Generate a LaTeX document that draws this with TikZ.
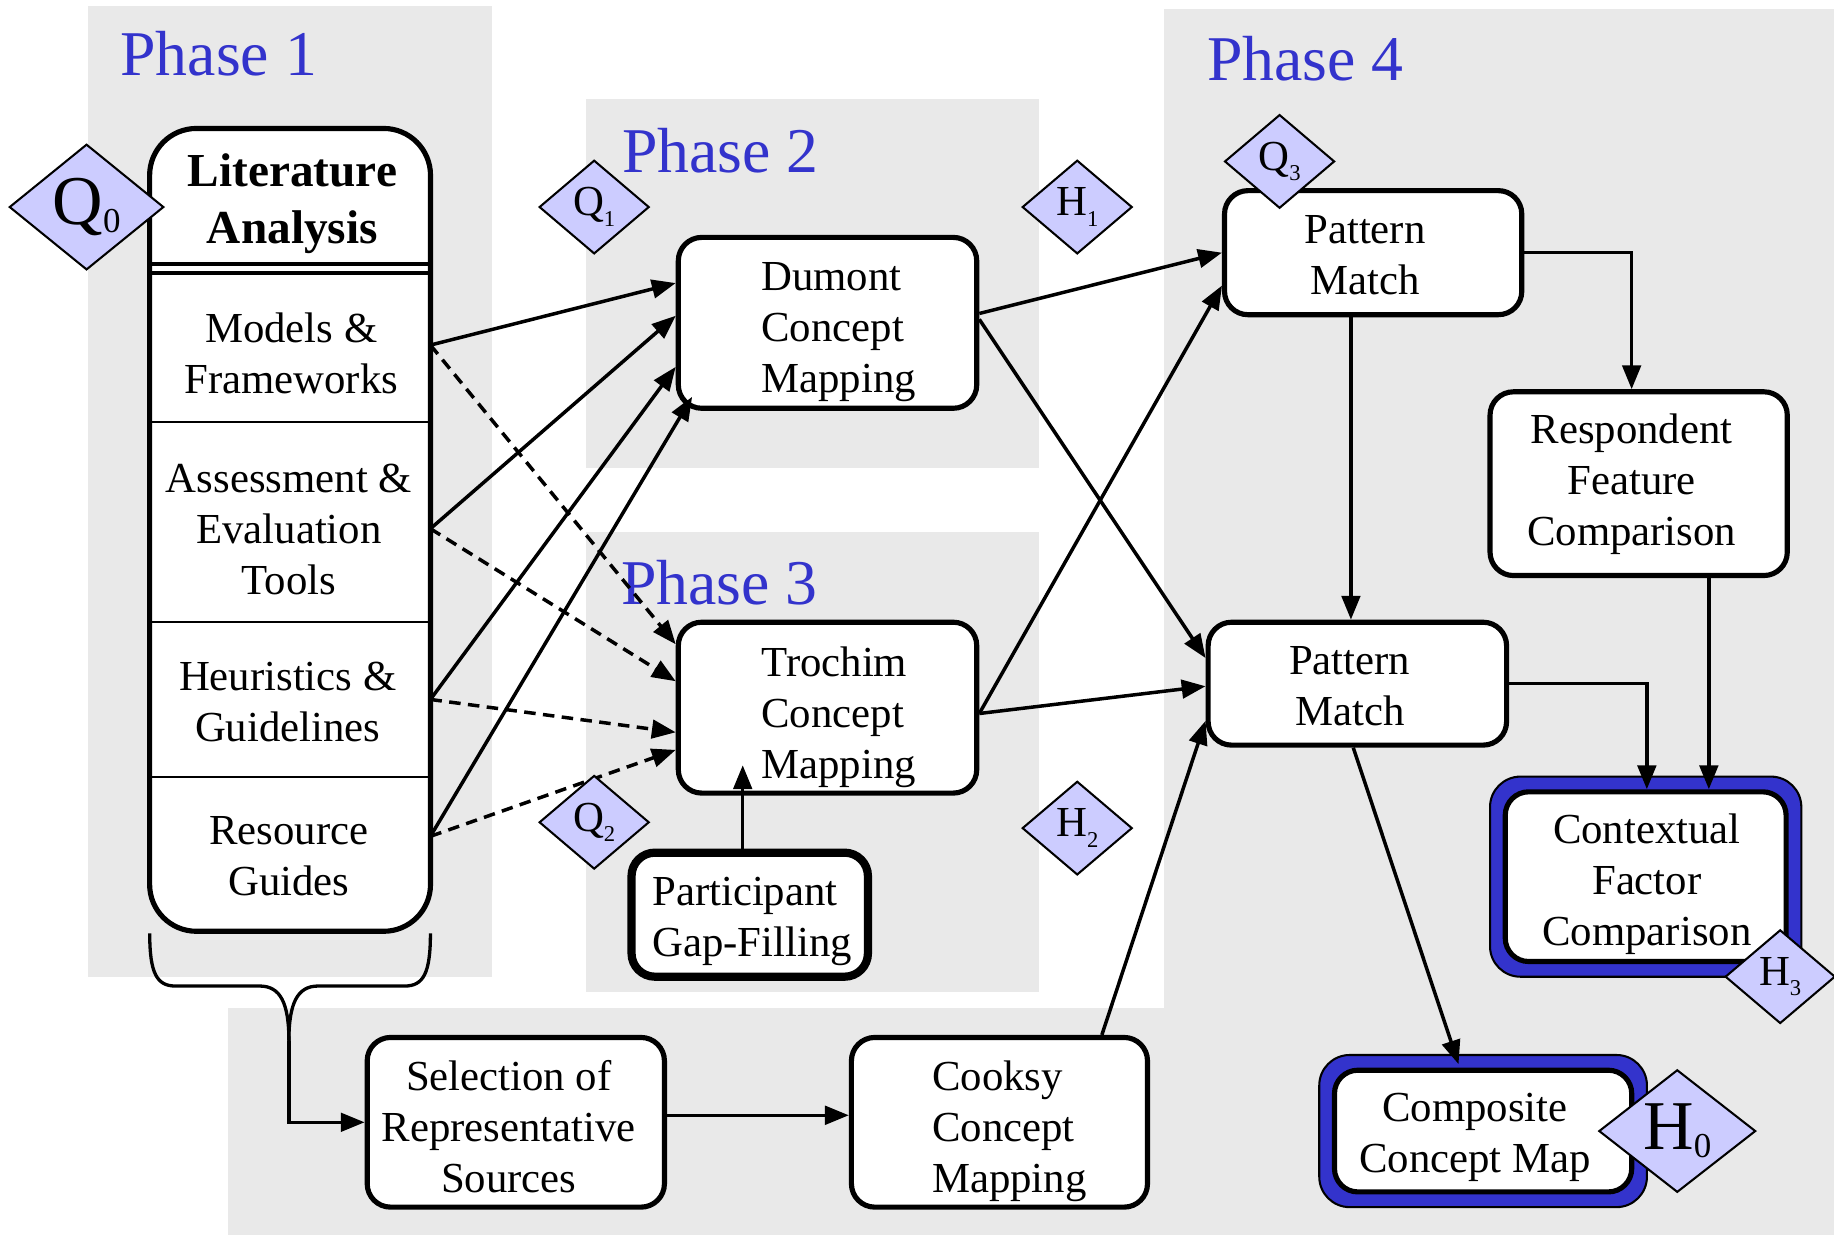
\documentclass[tikz,border=0pt]{standalone}
\usepackage{fontspec}
\setmainfont{Liberation Serif}
\usetikzlibrary{arrows.meta,shapes.geometric,calc}

\definecolor{panelgray}{HTML}{E9E9E9}
\definecolor{phaseblue}{HTML}{3333CC}
\definecolor{markfill}{HTML}{CCCCFF}

\newcommand{\txtbody}{\fontsize{10.4}{12.4}\selectfont}
\newcommand{\txtphase}{\fontsize{15.5}{18}\selectfont}
\newcommand{\txthead}{\fontsize{11.5}{13.9}\selectfont\bfseries}
% small marker: letter with a low index
\newcommand{\smallmark}[2]{#1\raisebox{-0.25em}{\fontsize{5.5}{6}\selectfont #2}}
\newcommand{\bigmark}[2]{\fontsize{17}{18}\selectfont #1\raisebox{-0.12em}{\fontsize{8.5}{9}\selectfont #2}}

\begin{document}
\begin{tikzpicture}[x=0.01cm, y=-0.01cm,
  every node/.style={font=\txtbody},
  panel/.style={fill=panelgray, draw=none},
  phase/.style={font=\txtphase, text=phaseblue, inner sep=0pt},
  stage/.style={draw, line width=1.25pt, rounded corners=0.2cm, fill=white, inner sep=0pt},
  outcome/.style={draw=black, line width=0.5pt, fill=phaseblue, rounded corners=0.26cm, inner sep=0pt},
  lbl/.style={inner sep=0pt},
  marker/.style={diamond, draw, line width=0.5pt, fill=markfill, inner sep=0pt,
                 minimum width=0.94cm, minimum height=0.80cm},
  arr/.style={-{Triangle[length=5.8pt,width=4.5pt]}, line width=0.85pt},
  darr/.style={arr, dash pattern=on 2.8pt off 1.8pt},
  sep/.style={line width=0.5pt}
]
\useasboundingbox (0,0) rectangle (1568,1056);

% ---------- phase panels ----------
\fill[panel] (75,5) rectangle (421,835);
\fill[panel] (501,85) rectangle (888,400);
\fill[panel] (501,455) rectangle (888,848);
\fill[panel] (995,8) rectangle (1568,1056);
\fill[panel] (195,862) rectangle (1568,1056);

\node[phase] (ph1) at (187,46) {Phase 1};
\node[phase] (ph2) at (616,129) {Phase 2};
\node[phase] (ph3) at (615,498) {Phase 3};
\node[phase] (ph4) at (1116,50) {Phase 4};

% ---------- literature analysis column ----------
\node[draw, line width=1.25pt, rounded corners=0.4cm, fill=white, inner sep=0pt,
      minimum width=2.4cm, minimum height=6.86cm] (lit) at (248,453) {};
\node[lbl, font=\txthead, align=center] (litT) at (250,174) {Literature\\Analysis};
\draw[line width=1.1pt] (128,225.5) -- (368,225.5);
\draw[line width=1.1pt] (128,233.5) -- (368,233.5);
\draw[sep] (128,361) -- (368,361);
\draw[sep] (128,532) -- (368,532);
\draw[sep] (128,664) -- (368,664);
\node[lbl, align=center] (models) at (249,302) {Models \&\\Frameworks};
\node[lbl, align=center] (assess) at (247,453) {Assessment \&\\Evaluation\\Tools};
\node[lbl, align=center] (heur) at (246,600) {Heuristics \&\\Guidelines};
\node[lbl, align=center] (res) at (247,732) {Resource\\Guides};
\coordinate (mf) at (368,295);
\coordinate (aet) at (368,452);
\coordinate (hg) at (368,598);
\coordinate (rg) at (368,715);

% brace gathering the literature sources
\draw[line width=0.8pt] (128,798) .. controls (128,832) and (134,843) .. (150,843)
   -- (222,843) .. controls (240,843) and (247,858) .. (247,890);
\draw[line width=0.8pt] (368,798) .. controls (368,832) and (362,843) .. (346,843)
   -- (272,843) .. controls (254,843) and (247,858) .. (247,890);
\coordinate (bracetip) at (247,890);

% ---------- stage boxes ----------
\node[stage, minimum width=2.55cm, minimum height=1.46cm] (dumont) at (707.5,276) {};
\node[lbl, align=left] (dumontT) at (717,284) {Dumont\\Concept\\Mapping};

\node[stage, minimum width=2.55cm, minimum height=1.46cm] (troch) at (707.5,605) {};
\node[lbl, align=left] (trochT) at (717,613) {Trochim\\Concept\\Mapping};

\node[stage, line width=2pt, minimum width=2.02cm, minimum height=1.06cm] (part) at (641,782) {};
\node[lbl, align=left] (partT) at (643,788) {Participant\\Gap-Filling};

\node[stage, minimum width=2.54cm, minimum height=1.45cm] (sel) at (441,959.5) {};
\node[lbl, align=center] (selT) at (435,963) {Selection of\\Representative\\Sources};

\node[stage, minimum width=2.53cm, minimum height=1.45cm] (cooksy) at (854.5,959.5) {};
\node[lbl, align=left] (cooksyT) at (863,967) {Cooksy\\Concept\\Mapping};

\node[stage, minimum width=2.54cm, minimum height=1.06cm] (ptop) at (1174,216) {};
\node[lbl, align=center] (ptopT) at (1167,218) {Pattern\\Match};

\node[stage, minimum width=2.54cm, minimum height=1.57cm] (resp) at (1401,413.5) {};
\node[lbl, align=center] (respT) at (1395,414) {Respondent\\Feature\\Comparison};

\node[stage, minimum width=2.55cm, minimum height=1.05cm] (pmid) at (1160.5,584.5) {};
\node[lbl, align=center] (pmidT) at (1154,587) {Pattern\\Match};

\node[outcome, minimum width=2.66cm, minimum height=1.71cm] (ctxo) at (1407,749.5) {};
\node[stage, minimum width=2.40cm, minimum height=1.45cm] (ctx) at (1407,749.5) {};
\node[lbl, align=center] (ctxT) at (1408,756) {Contextual\\Factor\\Comparison};

\node[outcome, minimum width=2.80cm, minimum height=1.30cm] (compo) at (1268,967) {};
\node[stage, minimum width=2.54cm, minimum height=1.04cm] (compi) at (1268,967) {};
\node[lbl, align=center] (compT) at (1261,972) {Composite\\Concept Map};

% ---------- connectors ----------
\draw[arr] (mf) -- ($(dumont.north west)!0.274!(dumont.south west)$);
\draw[arr] (aet) -- ($(dumont.north west)!0.46!(dumont.south west)$);
\draw[arr] (hg) -- ($(dumont.north west)!0.75!(dumont.south west)$);
\draw[arr] (rg) -- ($(dumont.south west)+(14,-12)$);
\draw[darr] (mf) -- ($(troch.north west)!0.14!(troch.south west)$);
\draw[darr] (aet) -- ($(troch.north west)!0.35!(troch.south west)$);
\draw[darr] (hg) -- ($(troch.north west)!0.64!(troch.south west)$);
\draw[darr] (rg) -- ($(troch.north west)!0.74!(troch.south west)$);

\draw[arr] ($(part.north)+(-6,0)$) -- ($(troch.south)+(-72.5,-26)$);

\draw[arr] ($(dumont.east)+(0,-8)$) -- (ptop.west);
\draw[arr] ($(dumont.east)+(0,-3)$) -- ($(pmid.north west)!0.3!(pmid.south west)$);
\draw[arr] ($(troch.east)+(0,5)$) -- ($(ptop.north west)!0.755!(ptop.south west)$);
\draw[arr] ($(troch.east)+(0,5)$) -- ($(pmid.north west)!0.52!(pmid.south west)$);
\draw[arr] ($(cooksy.north west)!0.84!(cooksy.north east)$) -- ($(pmid.north west)!0.79!(pmid.south west)$);

\draw[arr] (bracetip) |- (sel.west);
\draw[arr] ($(sel.east)+(0,-6)$) -- ($(cooksy.west)+(0,-6)$);

\draw[arr] (ptop.east) -| ($(resp.north)+(-6,0)$);
\draw[arr] ($(ptop.south)+(-19,0)$) -- ($(pmid.north)+(-5.5,0)$);
\draw[arr] ($(resp.south)+(60,0)$) -- ($(ctx.north)+(54,0)$);
\draw[arr] (pmid.east) -| ($(ctx.north)+(1,0)$);
\draw[arr] ($(pmid.south)+(-3.5,0)$) -- ($(compi.north)+(-21,-3)$);

% ---------- question / hypothesis markers ----------
\node[marker, minimum width=1.32cm, minimum height=1.04cm] (q0) at (74,177) {\bigmark{Q}{0}};
\node[marker] (q1) at (508,177) {\smallmark{Q}{1}};
\node[marker] (h1) at (921,177) {\smallmark{H}{1}};
\node[marker] (q2) at (508,703) {\smallmark{Q}{2}};
\node[marker] (h2) at (921,708) {\smallmark{H}{2}};
\node[marker] (q3) at (1094,138) {\smallmark{Q}{3}};
\node[marker] (h3) at (1522,835) {\smallmark{H}{3}};
\node[marker, minimum width=1.34cm, minimum height=1.04cm] (h0) at (1434,967) {\bigmark{H}{0}};
\end{tikzpicture}
\end{document}
